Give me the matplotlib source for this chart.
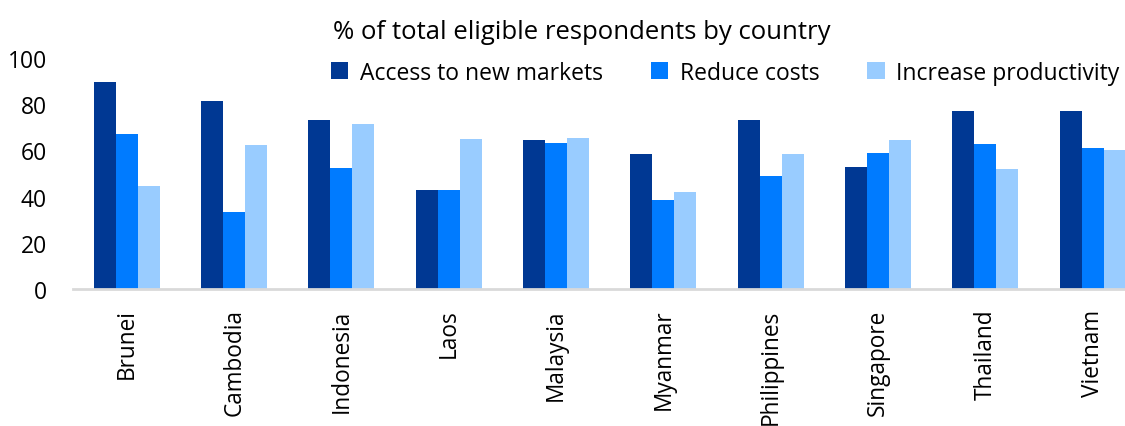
import matplotlib
matplotlib.use("Agg")
import matplotlib.pyplot as plt
import numpy as np

countries = ["Brunei", "Cambodia", "Indonesia", "Laos", "Malaysia",
             "Myanmar", "Philippines", "Singapore", "Thailand", "Vietnam"]
access_markets = [89.5, 81.5, 73.3, 42.9, 64.4, 58.3, 73.3, 52.7, 76.9, 76.9]
reduce_costs = [67.1, 33.4, 52.3, 42.9, 63.1, 38.7, 49.0, 58.8, 62.9, 60.9]
increase_productivity = [44.6, 62.2, 71.3, 64.8, 65.5, 42.0, 58.3, 64.4, 52.1, 60.0]

series = [
    ("Access to new markets", access_markets, "#003893"),
    ("Reduce costs", reduce_costs, "#007bff"),
    ("Increase productivity", increase_productivity, "#99ccff"),
]

plt.rcParams["font.family"] = ["Open Sans", "DejaVu Sans"]

fig = plt.figure(figsize=(11.25, 4.27), dpi=100)
ax = fig.add_axes([0.065, 0.3208, 0.935, 0.541])

x = np.arange(len(countries))
w = 0.205
for i, (name, vals, col) in enumerate(series):
    ax.bar(x + (i - 1) * w, vals, width=w, color=col, label=name, linewidth=0)

ax.set_ylim(0, 100)
ax.set_xlim(-0.5, 9.3)
ax.set_yticks(range(0, 101, 20))
ax.set_xticks(x)
ax.set_xticklabels(countries, rotation=90, fontsize=16.3)
ax.tick_params(axis="y", length=0, labelsize=16.5, pad=19)
ax.tick_params(axis="x", length=0, pad=14)

for s in ["top", "right", "left"]:
    ax.spines[s].set_visible(False)
ax.spines["bottom"].set_color("#d9d9d9")
ax.spines["bottom"].set_linewidth(2)

fig.text(0.517, 0.925, "% of total eligible respondents by country",
         ha="center", va="center", fontsize=18.5)

fig.legend(loc="center right", bbox_to_anchor=(1.003, 0.827), ncol=3,
           frameon=False, fontsize=16.5, handlelength=0.75, handleheight=0.75,
           handletextpad=0.5, columnspacing=2.1, borderaxespad=0)

fig.savefig("out.png", dpi=100)
